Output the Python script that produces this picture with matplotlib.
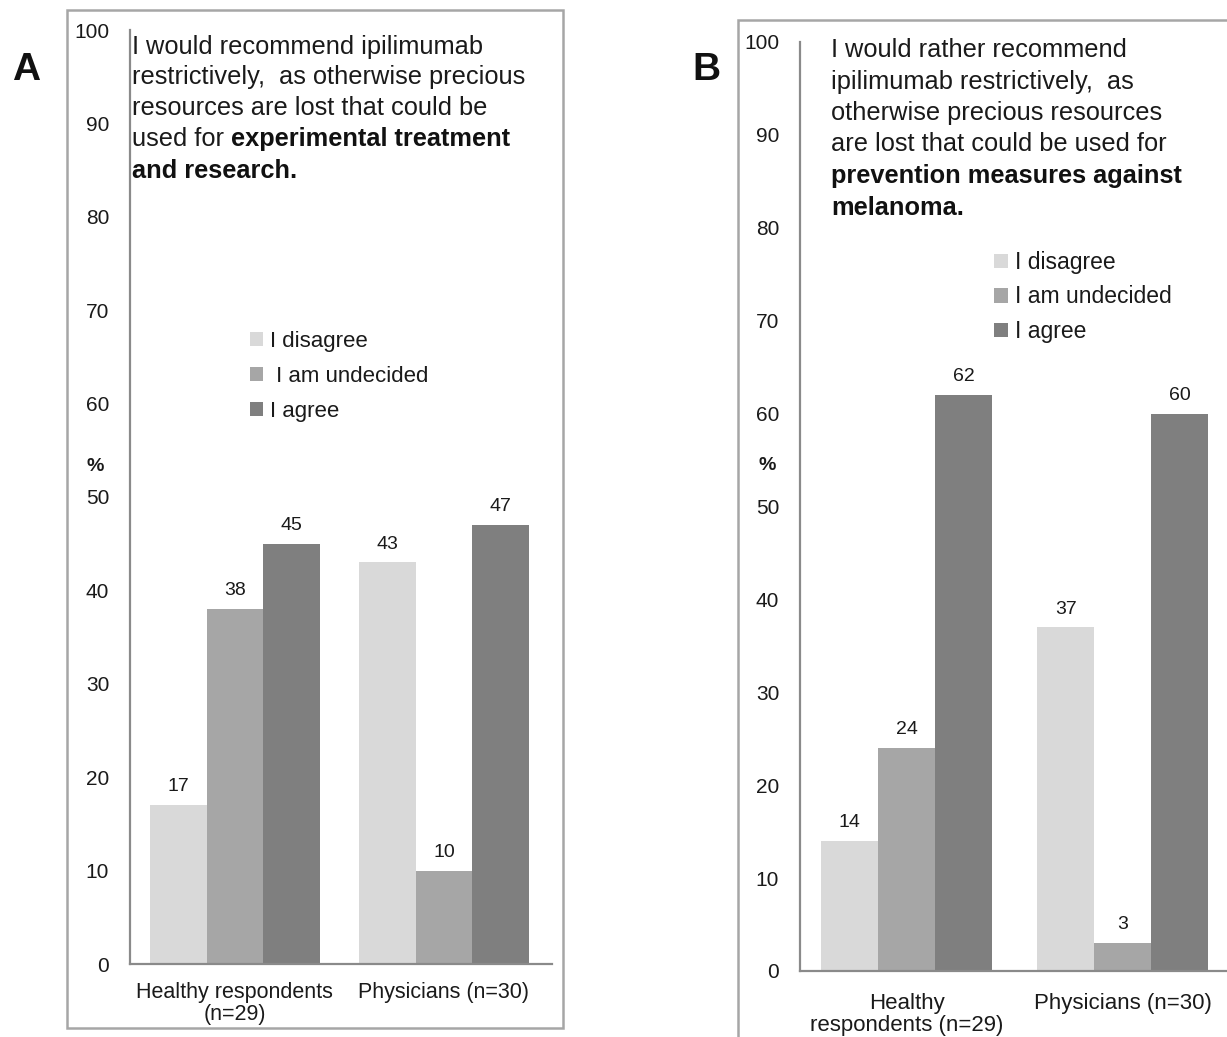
import matplotlib
matplotlib.use("Agg")
import matplotlib.pyplot as plt
from matplotlib.patches import Rectangle

plt.rcParams['font.family'] = ['Liberation Sans', 'DejaVu Sans']

# ---- data ----
responses = ["I disagree", "I am undecided", "I agree"]
legend_labels_a = ["I disagree", " I am undecided", "I agree"]
groups_a = ["Healthy respondents\n(n=29)", "Physicians (n=30)"]
groups_b = ["Healthy\nrespondents (n=29)", "Physicians (n=30)"]
values_a = {"I disagree": [17, 43], "I am undecided": [38, 10], "I agree": [45, 47]}
values_b = {"I disagree": [14, 37], "I am undecided": [24, 3], "I agree": [62, 60]}
y_ticks = [0, 10, 20, 30, 40, 50, 60, 70, 80, 90, 100]
colors = ["#d9d9d9", "#a6a6a6", "#7f7f7f"]

statement_a = [
    ("I would recommend ipilimumab", ""),
    ("restrictively,  as otherwise precious", ""),
    ("resources are lost that could be", ""),
    ("used for ", "experimental treatment"),
    ("", "and research."),
]
statement_b = [
    ("I would rather recommend", ""),
    ("ipilimumab restrictively,  as", ""),
    ("otherwise precious resources", ""),
    ("are lost that could be used for", ""),
    ("", "prevention measures against"),
    ("", "melanoma."),
]

W, H = 1227, 1037
fig = plt.figure(figsize=(W / 100, H / 100), dpi=100)
fig.patch.set_facecolor("white")


def px_axes(x0, x1, ytop, ybot):
    return fig.add_axes([x0 / W, 1 - ybot / H, (x1 - x0) / W, (ybot - ytop) / H])


def fx(x):
    return x / W


def fy(y):
    return 1 - y / H


def frame(x0, y0, x1, y1):
    fig.patches.append(Rectangle((fx(x0), fy(y1)), fx(x1) - fx(x0), fy(y0) - fy(y1),
                                 transform=fig.transFigure, fill=False,
                                 edgecolor="#a6a6a6", linewidth=1.8, zorder=0))


def draw_panel(ax, groups, values, width, xlim, tick_fs, xtick_fs, val_fs, legend_labels,
               legend_xy, legend_fs, label_spacing, xpad):
    containers = []
    for i, (resp, col) in enumerate(zip(responses, colors)):
        xs = [g + (i - 1) * width for g in range(len(groups))]
        bars = ax.bar(xs, values[resp], width=width, color=col, edgecolor="none",
                      label=legend_labels[i])
        ax.bar_label(bars, padding=7, fontsize=val_fs, color="#1a1a1a")
        containers.append(bars)
    ax.set_xlim(*xlim)
    ax.set_ylim(0, 100)
    ax.set_yticks(y_ticks)
    ax.set_yticklabels([str(t) for t in y_ticks], fontsize=tick_fs, color="#1a1a1a")
    ax.set_xticks(range(len(groups)))
    ax.set_xticklabels(groups, fontsize=xtick_fs, color="#1a1a1a", linespacing=1.05)
    ax.tick_params(axis="y", length=0, pad=15)
    ax.tick_params(axis="x", length=0, pad=xpad)
    for s in ["top", "right"]:
        ax.spines[s].set_visible(False)
    for s in ["left", "bottom"]:
        ax.spines[s].set_color("#8a8a8a")
        ax.spines[s].set_linewidth(1.6)
    ax.set_facecolor("none")
    leg = ax.legend(handles=containers, loc="upper left",
                    bbox_to_anchor=(fx(legend_xy[0]), fy(legend_xy[1])),
                    bbox_transform=fig.transFigure, frameon=False, fontsize=legend_fs,
                    handlelength=0.6, handleheight=0.6, handletextpad=0.3,
                    labelspacing=label_spacing, borderpad=0, borderaxespad=0)
    for t in leg.get_texts():
        t.set_color("#1a1a1a")
    return ax


def statement(lines, x, baselines, fs):
    renderer = fig.canvas.get_renderer()
    for (normal, bold), yb in zip(lines, baselines):
        xpos = fx(x)
        if normal:
            t = fig.text(xpos, fy(yb), normal, fontsize=fs, va="baseline", ha="left",
                         color="#1a1a1a")
            bb = t.get_window_extent(renderer=renderer)
            xpos = bb.x1 / W
        if bold:
            fig.text(xpos, fy(yb), bold, fontsize=fs, va="baseline", ha="left",
                     fontweight="bold", color="#111111")


# ---- panel A ----
frame(67, 10, 563, 1028)
ax_a = px_axes(130, 552, 30, 964)
draw_panel(ax_a, groups_a, values_a, 0.27, (-0.502, 1.517), 15, 15.5, 14,
           legend_labels_a, (250, 331), 16, 0.62, 13)
ax_a.text(-0.083, 53.3, "%", transform=ax_a.get_yaxis_transform(), fontsize=14,
          fontweight="bold", ha="center", va="center", color="#1a1a1a")
statement(statement_a, 132, [54, 84, 115, 146, 178], 18.3)
fig.text(fx(26), fy(70), "A", fontsize=28, fontweight="bold", ha="center", va="center",
         color="#111111")

# ---- panel B ----
frame(738, 20, 1300, 1100)
ax_b = px_axes(800, 1245, 42, 971)
draw_panel(ax_b, groups_b, values_b, 0.264, (-0.495, 1.565), 15, 16, 14,
           responses, (994, 251), 16.5, 0.5, 16)
ax_b.text(-0.074, 54.4, "%", transform=ax_b.get_yaxis_transform(), fontsize=14,
          fontweight="bold", ha="center", va="center", color="#1a1a1a")
statement(statement_b, 831, [57, 89, 120, 151, 183, 215], 18.3)
fig.text(fx(706), fy(70), "B", fontsize=28, fontweight="bold", ha="center", va="center",
         color="#111111")

fig.savefig("out.png", dpi=100, facecolor="white")
